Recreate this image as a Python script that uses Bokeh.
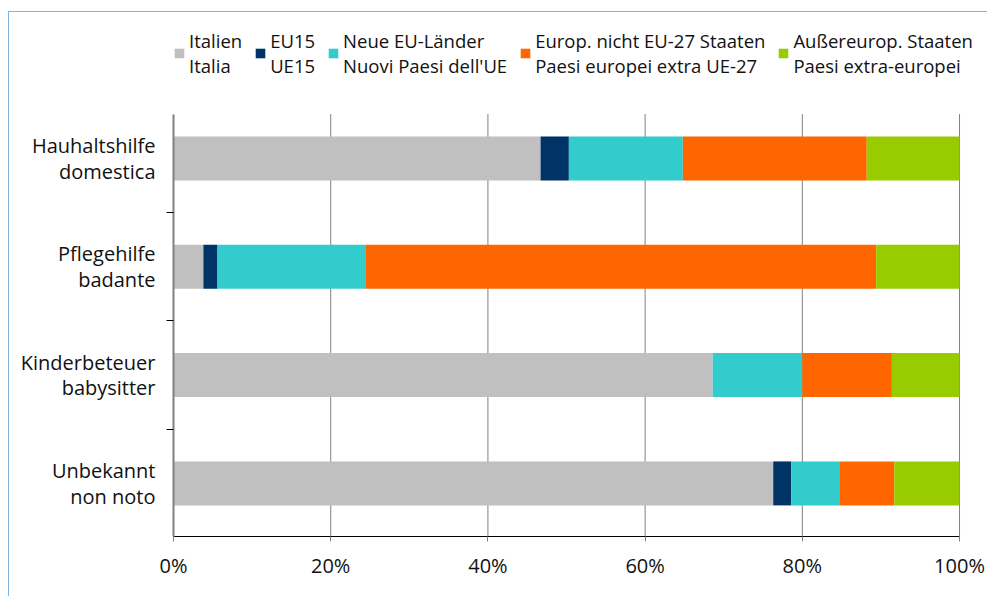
from bokeh.plotting import figure
from bokeh.models import ColumnDataSource, FixedTicker, Legend, LegendItem, Range1d
from bokeh.embed import file_html
from bokeh.resources import INLINE

categories = ["Hauhaltshilfe\ndomestica", "Pflegehilfe\nbadante",
              "Kinderbeteuer\nbabysitter", "Unbekannt\nnon noto"]
series_names = ["Italien\nItalia", "EU15\nUE15", "Neue EU-Länder\nNuovi Paesi dell'UE",
                "Europ. nicht EU-27 Staaten\nPaesi europei extra UE-27",
                "Außereurop. Staaten\nPaesi extra-europei"]
italien = [46.7, 3.8, 68.6, 76.3]
eu15 = [3.6, 1.8, 0.0, 2.3]
neue_eu = [14.5, 18.8, 11.4, 6.1]
europ_nicht_eu = [23.4, 65.0, 11.4, 7.0]
aussereurop = [11.8, 10.6, 8.6, 8.3]
colors = ["#C0C0C0", "#003366", "#33CCCC", "#FF6600", "#99CC00"]
x_ticks = [0, 20, 40, 60, 80, 100]

FONT = "Open Sans"
n = len(categories)
ypos = [n - 1 - i for i in range(n)]  # top to bottom
y_lo, y_hi = -0.49, n - 1 + 0.41      # extent of the category area

data = {"y": ypos, "s0": italien, "s1": eu15, "s2": neue_eu, "s3": europ_nicht_eu, "s4": aussereurop}
source = ColumnDataSource(data)

# the frame is extended upward and to the right so that the legend lies inside it
p = figure(width=979, height=585, output_backend="svg", toolbar_location=None,
           x_range=Range1d(0, 103.56), y_range=Range1d(y_lo, 4.255),
           min_border_left=164, min_border_right=1, min_border_top=10, min_border_bottom=61,
           margin=(11, 0, 0, 8))
p.styles = {"border-left": "1px solid #7FB0DE", "border-top": "1px solid #7FB0DE"}
p.outline_line_color = None
p.xgrid.visible = False
p.ygrid.visible = False

# vertical grid lines at the x ticks, over the category area only
grid_x = x_ticks[1:]
p.segment(x0=grid_x, y0=[y_lo] * len(grid_x), x1=grid_x, y1=[y_hi] * len(grid_x),
          line_color="#808080", line_width=1)

stack_keys = ["s0", "s1", "s2", "s3", "s4"]
renderers = p.hbar_stack(stack_keys, y="y", height=0.406, color=colors, source=source, line_color=None)

# x axis
p.xaxis.bounds = (0, 100)
p.xaxis.ticker = FixedTicker(ticks=x_ticks)
p.xaxis.major_label_overrides = {t: f"{t}%" for t in x_ticks}
p.xaxis.axis_line_color = "#000000"
p.xaxis.major_tick_line_color = "#808080"
p.xaxis.major_tick_in = 0
p.xaxis.major_tick_out = 5
p.xaxis.minor_tick_line_color = None
p.xaxis.major_label_standoff = 10
p.xaxis.major_label_text_font = FONT
p.xaxis.major_label_text_font_size = "20px"
p.xaxis.major_label_text_color = "#111111"

# y axis
p.yaxis.bounds = (y_lo, y_hi)
p.yaxis.ticker = FixedTicker(ticks=ypos, minor_ticks=[0.5 + k for k in range(n - 1)])
p.yaxis.major_label_overrides = {ypos[i]: categories[i] for i in range(n)}
p.yaxis.axis_line_color = "#808080"
p.yaxis.axis_line_width = 2
p.yaxis.major_tick_line_color = None
p.yaxis.minor_tick_line_color = "#000000"
p.yaxis.minor_tick_in = 0
p.yaxis.minor_tick_out = 7
p.yaxis.major_label_standoff = 11
p.yaxis.major_label_text_font = FONT
p.yaxis.major_label_text_font_size = "20px"
p.yaxis.major_label_text_line_height = 0.95
p.yaxis.major_label_text_color = "#111111"
p.yaxis.major_label_text_align = "center"

legend = Legend(items=[LegendItem(label=series_names[i], renderers=[renderers[i]]) for i in range(5)],
                orientation="horizontal", location=(0, 458),
                label_text_font=FONT, label_text_font_size="18.5px", label_text_color="#111111",
                label_text_line_height=0.95,
                glyph_width=12, glyph_height=12, label_standoff=4, spacing=12,
                padding=0, margin=0, border_line_color=None, background_fill_alpha=0)
p.add_layout(legend, "center")

open("out.html", "w").write(file_html(p, INLINE))
